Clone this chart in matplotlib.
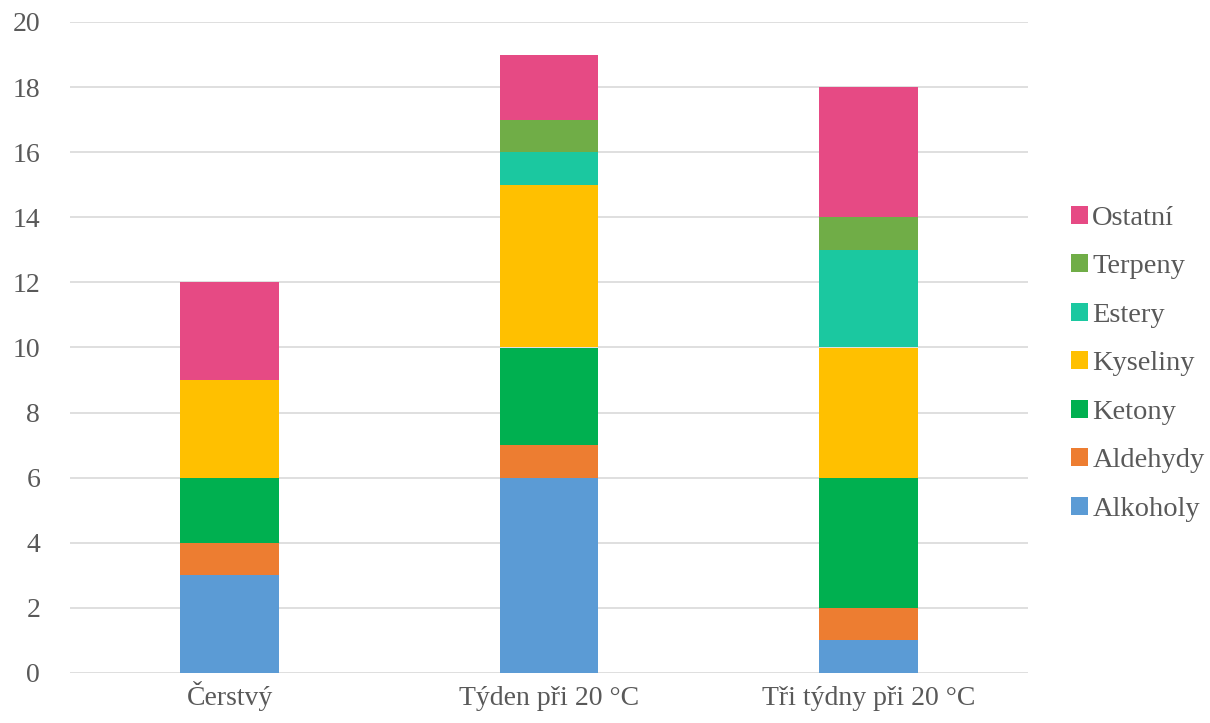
import matplotlib
matplotlib.use("Agg")
import matplotlib.pyplot as plt
import numpy as np

categories = ["Čerstvý", "Týden při 20 °C", "Tři týdny při 20 °C"]
series_names = ["Alkoholy", "Aldehydy", "Ketony", "Kyseliny", "Estery", "Terpeny", "Ostatní"]
alkoholy = [3, 6, 1]
aldehydy = [1, 1, 1]
ketony = [2, 3, 4]
kyseliny = [3, 5, 4]
estery = [0, 1, 3]
terpeny = [0, 1, 1]
ostatni = [3, 2, 4]
colors = ["#5B9BD5", "#ED7D31", "#00B050", "#FFC000", "#1BC8A0", "#70AD47", "#E64A84"]

data = [alkoholy, aldehydy, ketony, kyseliny, estery, terpeny, ostatni]

plt.rcParams['font.family'] = ['Liberation Serif', 'DejaVu Serif']
fig = plt.figure(figsize=(12.1, 7.23), dpi=100)
ax = fig.add_axes([70/1210, 50/723, (1028-70)/1210, (673-22)/723])

x = np.arange(len(categories))
bottom = np.zeros(len(categories))
handles = []
for name, vals, c in zip(series_names, data, colors):
    b = ax.bar(x, vals, 0.31, bottom=bottom, color=c, label=name, zorder=3)
    handles.append(b)
    bottom += np.array(vals)

ax.set_xlim(-0.5, 2.5)
ax.set_ylim(0, 20)
ax.set_yticks(np.arange(0, 21, 2))
ax.set_xticks(x)
ax.set_xticklabels(categories)
ax.grid(axis='y', color='#D9D9D9', linewidth=1.2, zorder=0)
for s in ax.spines.values():
    s.set_visible(False)
ax.tick_params(axis='both', length=0, labelsize=20, colors='#595959')
ax.tick_params(axis='y', pad=21.5)
ax.tick_params(axis='x', pad=23)
for lab in ax.get_xticklabels():
    lab.set_va('baseline')

leg = ax.legend(handles[::-1], series_names[::-1], loc='center left',
                bbox_to_anchor=(1.018, 0.475), frameon=False, fontsize=20.5,
                labelcolor='#595959', handlelength=0.6, handleheight=0.6,
                handletextpad=0.15, labelspacing=0.82)

fig.savefig("out.png", dpi=100)
